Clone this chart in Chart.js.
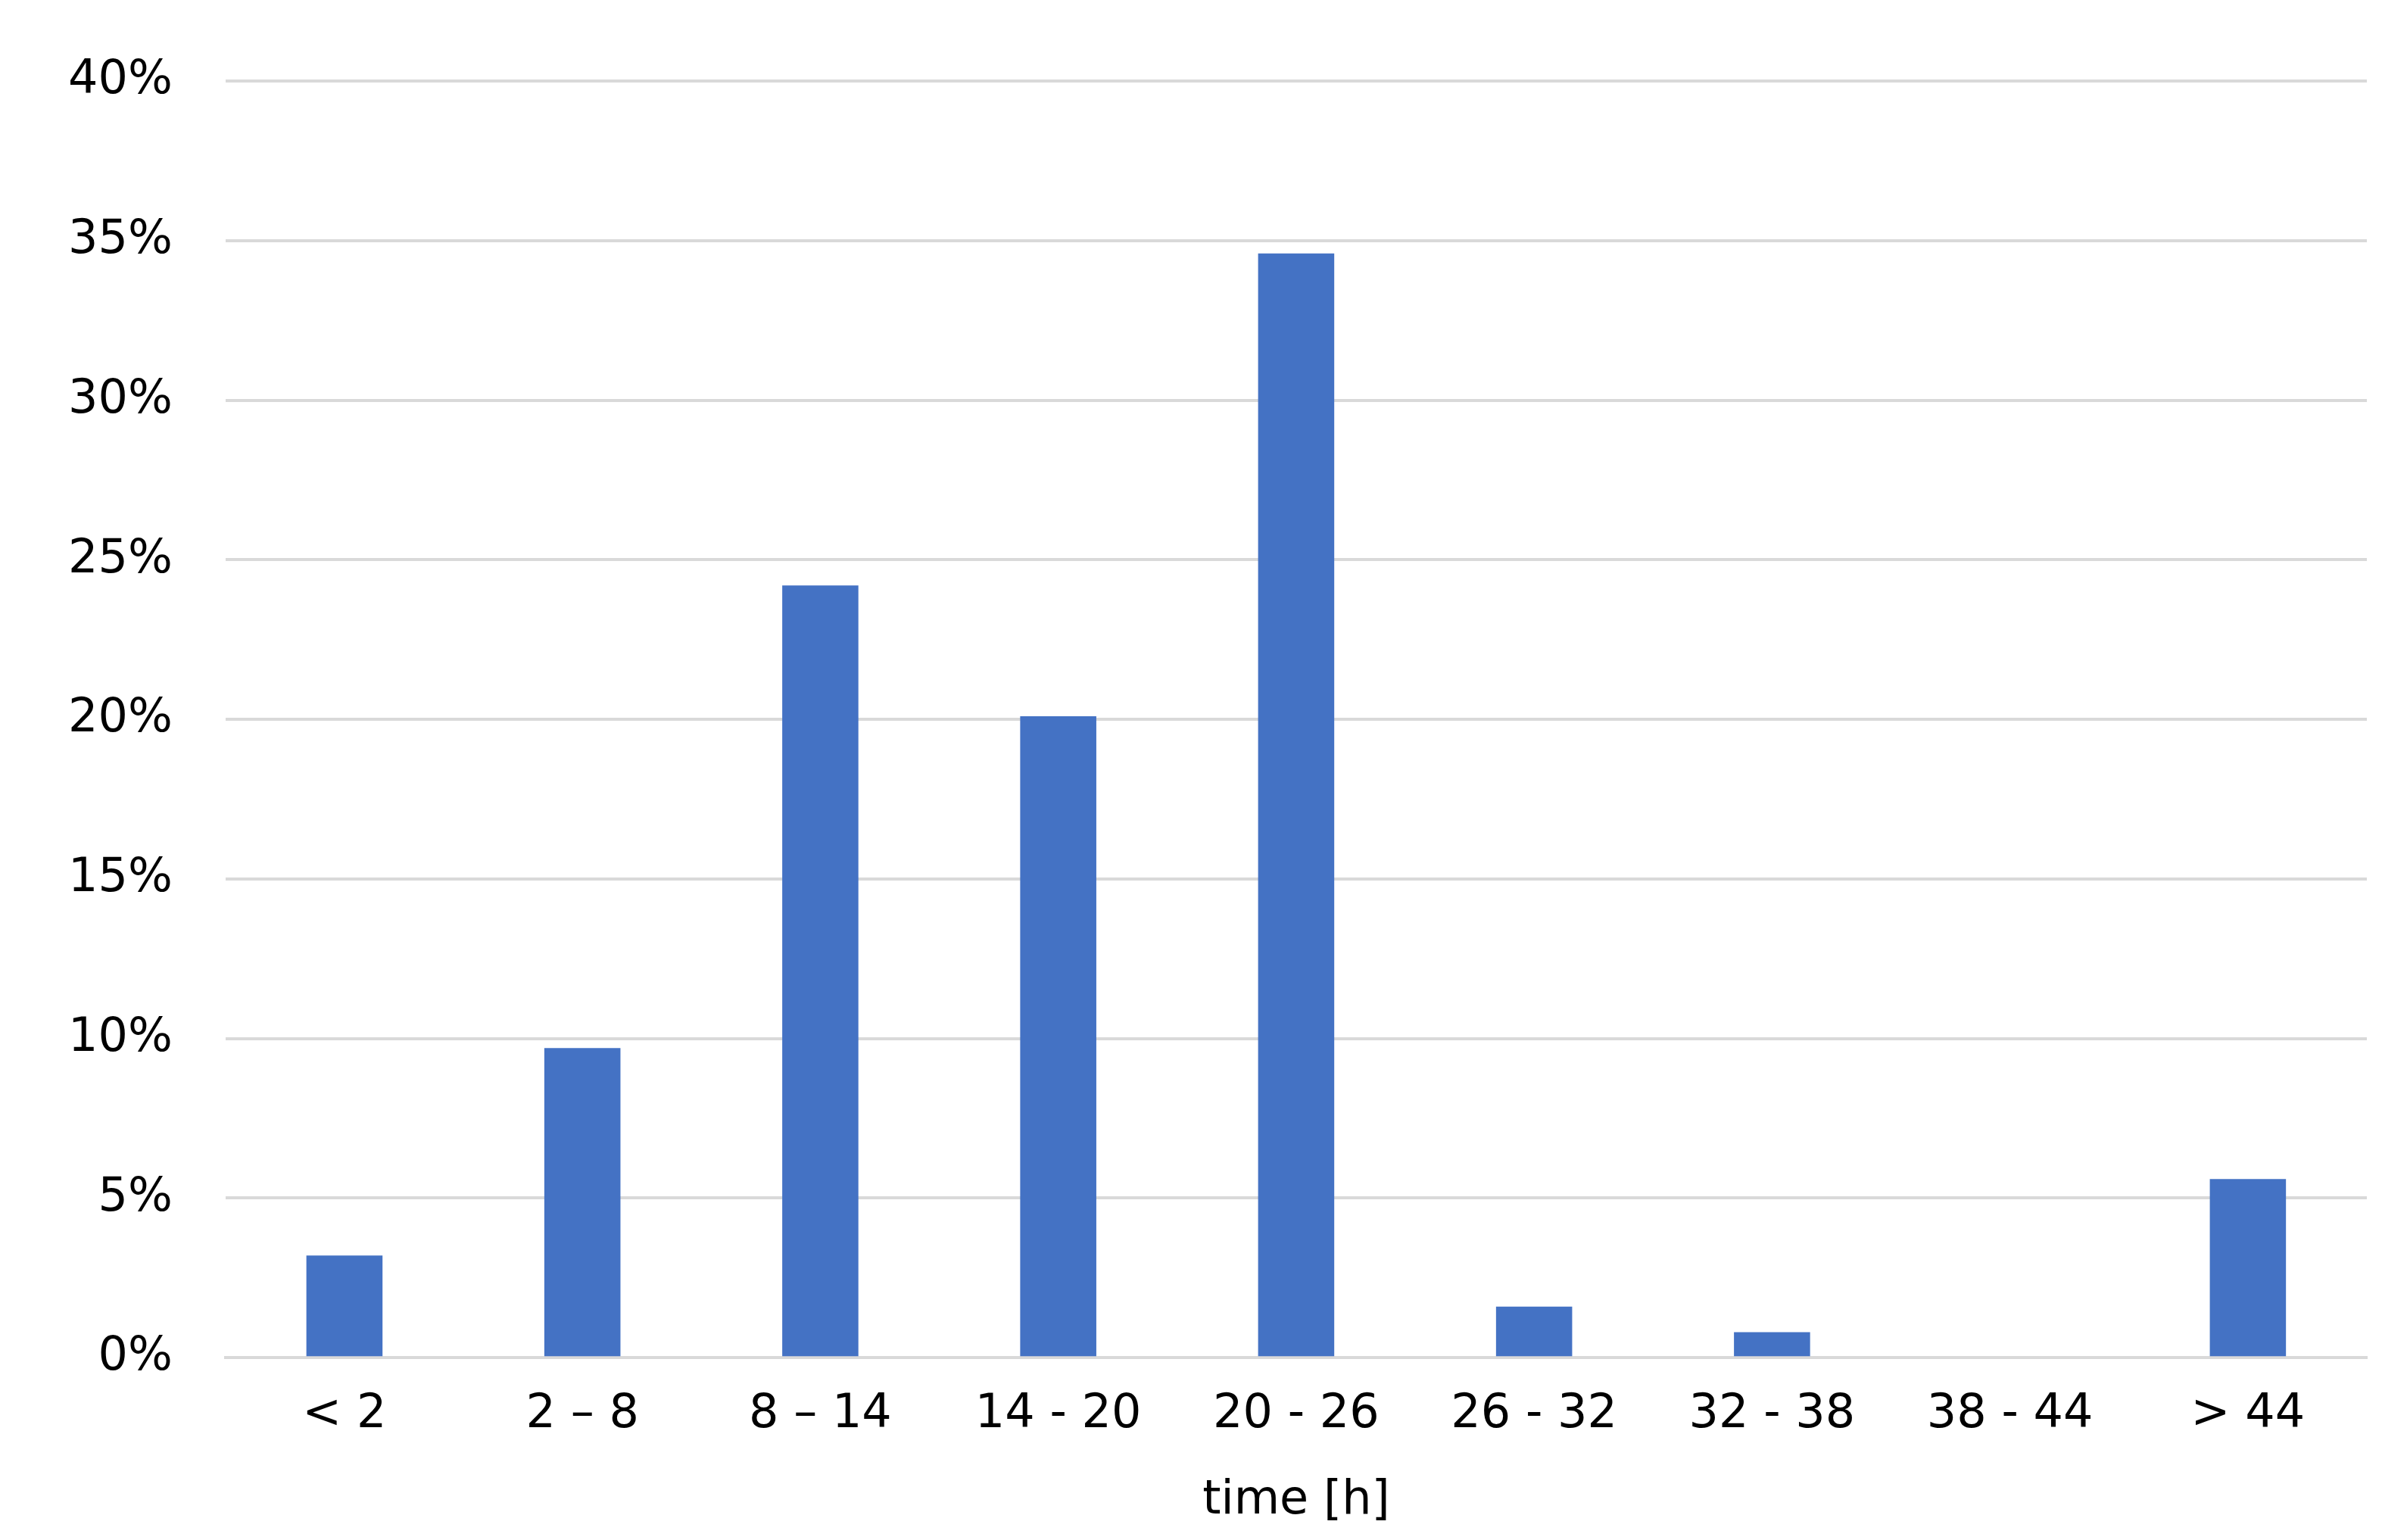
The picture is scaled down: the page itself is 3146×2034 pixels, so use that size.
<!DOCTYPE html>
<html>
<head>
<meta charset="utf-8">
<script src="https://cdn.jsdelivr.net/npm/chart.js@4"></script>
<style>
  html, body { margin: 0; padding: 0; background: #fff; }
  #wrap { width: 3146px; height: 2034px; }
</style>
</head>
<body>
<div id="wrap"><canvas id="myChart"></canvas></div>
<script>
// categories along the x-axis
var bins = ['< 2', '2 – 8', '8 – 14', '14 - 20', '20 - 26', '26 - 32', '32 - 38', '38 - 44', '> 44'];
// share of cases in each bin (%)
var share = [3.2, 9.7, 24.2, 20.1, 34.6, 1.6, 0.8, 0, 5.6];

var ctx = document.getElementById("myChart");
var myChart = new Chart(ctx, {
  type: 'bar',
  data: {
    labels: bins,
    datasets: [
      {
        data: share,
        backgroundColor: "#4472c4",
        categoryPercentage: 1,
        barPercentage: 0.32
      }
    ]
  },
  options: {
    responsive: true,
    maintainAspectRatio: false,
    animation: false,
    layout: { padding: { top: 50, right: 20, bottom: 10, left: 20 } },
    plugins: { legend: { display: false }, tooltip: { enabled: false } },
    scales: {
      x: {
        grid: { display: false },
        border: { color: '#d9d9d9', width: 4 },
        ticks: { color: '#000', font: { family: 'DejaVu Sans', size: 62 }, padding: 30, maxRotation: 0, autoSkip: false },
        title: { display: true, text: 'time [h]', color: '#000', font: { family: 'DejaVu Sans', size: 62 }, padding: { top: 10 } }
      },
      y: {
        min: 0, max: 40,
        grid: { color: '#d9d9d9', lineWidth: 4, drawTicks: false },
        border: { display: false },
        ticks: { stepSize: 5, color: '#000', font: { family: 'DejaVu Sans', size: 62 }, padding: 70,
          callback: function (v) { return v + '%'; } }
      }
    }
  }
});
</script>
</body>
</html>
